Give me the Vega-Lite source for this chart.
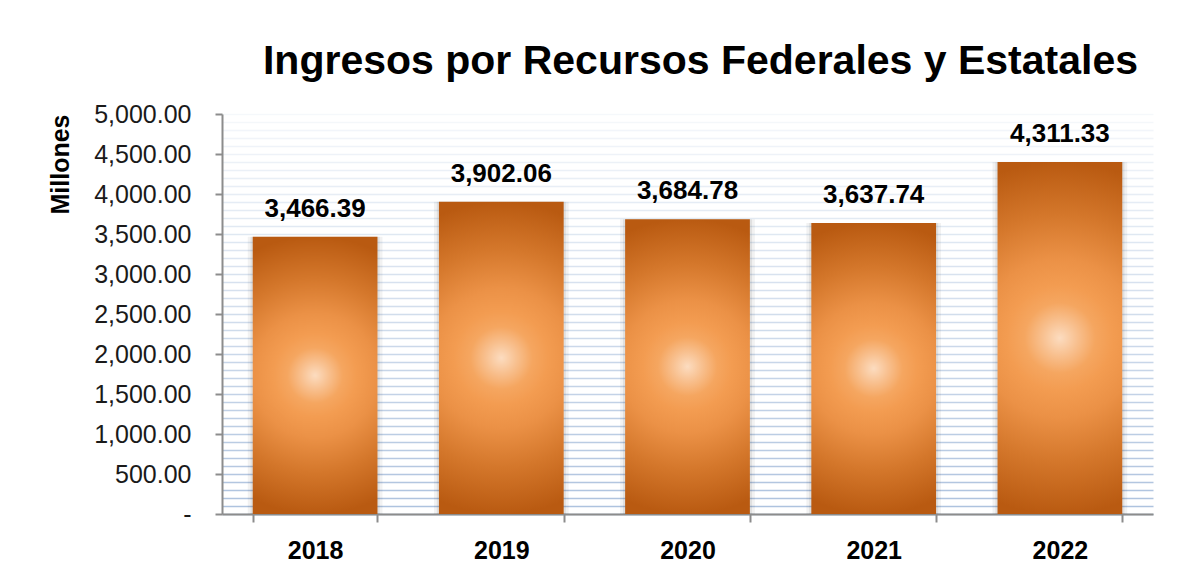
{
  "$schema": "https://vega.github.io/schema/vega-lite/v6.json",
  "width": 931,
  "height": 400,
  "autosize": {"type": "none"},
  "padding": {"left": 222, "top": 114, "right": 25, "bottom": 61},
  "background": "white",
  "title": {
    "text": "Ingresos por Recursos Federales y Estatales",
    "fontSize": 41,
    "fontWeight": "bold",
    "color": "#000000",
    "font": "Liberation Sans",
    "anchor": "middle",
    "frame": "group",
    "baseline": "alphabetic",
    "offset": -13,
    "dx": 13
  },
  "data": {
    "values": [
      {"anio": "2018", "monto": 3466.39, "etiqueta": 3466.39},
      {"anio": "2019", "monto": 3902.06, "etiqueta": 3902.06},
      {"anio": "2020", "monto": 3684.78, "etiqueta": 3684.78},
      {"anio": "2021", "monto": 3637.74, "etiqueta": 3637.74},
      {"anio": "2022", "monto": 4400, "etiqueta": 4311.33}
    ]
  },
  "encoding": {
    "x": {
      "field": "anio",
      "type": "nominal",
      "scale": {"paddingInner": 0.33, "paddingOuter": 0.165},
      "axis": {
        "title": null,
        "labelAngle": 0,
        "labelFont": "Liberation Sans",
        "labelFontSize": 25,
        "labelFontWeight": "bold",
        "labelColor": "#000000",
        "labelPadding": 16,
        "domainColor": "#8c8c8c",
        "domainWidth": 2,
        "tickColor": "#8c8c8c",
        "tickWidth": 2,
        "tickSize": 8,
        "tickBand": "extent",
        "grid": false
      }
    },
    "y": {
      "field": "monto",
      "type": "quantitative",
      "scale": {"domain": [0, 5000], "nice": false},
      "axis": {
        "title": "Millones",
        "titleFont": "Liberation Sans",
        "titleFontSize": 25,
        "titleFontWeight": "bold",
        "titleColor": "#000000",
        "titleAnchor": "end",
        "titlePadding": 20,
        "values": [0,100,200,300,400,500,600,700,800,900,1000,1100,1200,1300,1400,1500,1600,1700,1800,1900,2000,2100,2200,2300,2400,2500,2600,2700,2800,2900,3000,3100,3200,3300,3400,3500,3600,3700,3800,3900,4000,4100,4200,4300,4400,4500,4600,4700,4800,4900,5000],
        "labelExpr": "datum.value === 0 ? '-' : (datum.value % 500 === 0 ? format(datum.value, ',.2f') : '')",
        "labelDx": {"expr": "datum.value === 0 ? -14 : 0"},
        "labelOverlap": false,
        "labelFont": "Liberation Sans",
        "labelFontSize": 25,
        "labelColor": "#1a1a1a",
        "labelPadding": 24,
        "domainColor": "#8c8c8c",
        "domainWidth": 2,
        "tickColor": "#8c8c8c",
        "tickWidth": 2,
        "tickSize": 7,
        "tickOpacity": {"condition": {"test": "datum.value % 500 === 0", "value": 1}, "value": 0},
        "grid": true,
        "gridColor": "#adc2de",
        "gridWidth": 1.7,
        "gridOpacity": {"expr": "0.12 + 0.88 * (1 - datum.value / 5000)"}
      }
    }
  },
  "layer": [
    {
      "mark": {"type": "bar", "color": "#000000", "opacity": 0.05, "width": {"band": 1.08}}
    },
    {
      "mark": {"type": "bar", "color": "#000000", "opacity": 0.07, "width": {"band": 1.035}}
    },
    {
      "mark": {
        "type": "bar",
        "color": {
          "gradient": "radial",
          "x1": 0.5, "y1": 0.5, "r1": 0,
          "x2": 0.5, "y2": 0.5, "r2": 0.5,
          "stops": [
            {"offset": 0, "color": "#fcdcc0"},
            {"offset": 0.1, "color": "#f8c08f"},
            {"offset": 0.2, "color": "#f5a660"},
            {"offset": 0.3, "color": "#f39c51"},
            {"offset": 0.45, "color": "#eb9146"},
            {"offset": 0.7, "color": "#d4772b"},
            {"offset": 1, "color": "#b95a11"}
          ]
        }
      }
    },
    {
      "mark": {
        "type": "text",
        "baseline": "alphabetic",
        "dy": -20,
        "font": "Liberation Sans",
        "fontSize": 26,
        "fontWeight": "bold",
        "color": "#000000"
      },
      "encoding": {
        "text": {"field": "etiqueta", "type": "quantitative", "format": ",.2f"}
      }
    }
  ],
  "config": {
    "view": {"stroke": null},
    "font": "Liberation Sans"
  }
}
